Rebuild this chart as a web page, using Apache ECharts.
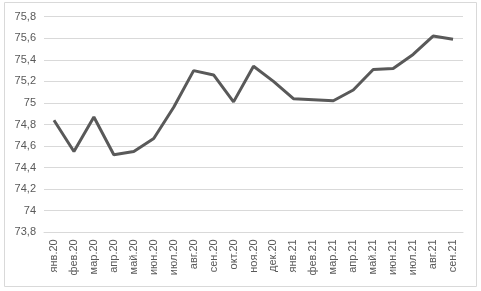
<!DOCTYPE html>
<html>
<head>
<meta charset="utf-8">
<script src="https://cdn.jsdelivr.net/npm/echarts@6/dist/echarts.min.js"></script>
<style>
  html, body { margin: 0; padding: 0; background: #fff; }
  #chart { width: 481px; height: 291px; }
</style>
</head>
<body>
<div id="chart"></div>
<script>
// месяцы
var months = ['янв.20', 'фев.20', 'мар.20', 'апр.20', 'май.20', 'июн.20', 'июл.20', 'авг.20', 'сен.20', 'окт.20', 'ноя.20', 'дек.20',
  'янв.21', 'фев.21', 'мар.21', 'апр.21', 'май.21', 'июн.21', 'июл.21', 'авг.21', 'сен.21'];
// значения
var values = [74.84, 74.55, 74.87, 74.52, 74.55, 74.67, 74.96, 75.30, 75.26, 75.01, 75.34, 75.20,
  75.04, 75.03, 75.02, 75.12, 75.31, 75.32, 75.45, 75.62, 75.59];
var yMin = 73.8, yMax = 75.8, yStep = 0.2;

var myChart = echarts.init(document.getElementById('chart'));
var options = {
  animation: false,
  textStyle: { fontFamily: 'Liberation Sans, Arial, sans-serif' },
  graphic: [{
    type: 'rect',
    shape: { x: 4.5, y: 2.5, width: 472, height: 284 },
    style: { fill: 'none', stroke: '#d9d9d9', lineWidth: 1 },
    silent: true
  }],
  grid: { left: 44, right: 18, top: 16.7, bottom: 58.7 },
  xAxis: {
    type: 'category',
    data: months,
    boundaryGap: true,
    axisTick: { show: false },
    axisLine: { lineStyle: { color: '#d9d9d9', width: 1 } },
    axisLabel: {
      interval: 0,
      rotate: 90,
      margin: 7,
      color: '#595959',
      fontSize: 11
    }
  },
  yAxis: {
    type: 'value',
    min: yMin,
    max: yMax,
    interval: yStep,
    axisLine: { show: false },
    axisTick: { show: false },
    axisLabel: {
      color: '#595959',
      fontSize: 11,
      margin: 8,
      formatter: function (v) {
        return String(Math.round(v * 10) / 10).replace('.', ',');
      }
    },
    splitLine: { lineStyle: { color: '#d9d9d9', width: 1 } }
  },
  series: [{
    type: 'line',
    data: values,
    symbol: 'none',
    lineStyle: { color: '#595959', width: 3 },
    itemStyle: { color: '#595959' }
  }]
};
myChart.setOption(options);
</script>
</body>
</html>
